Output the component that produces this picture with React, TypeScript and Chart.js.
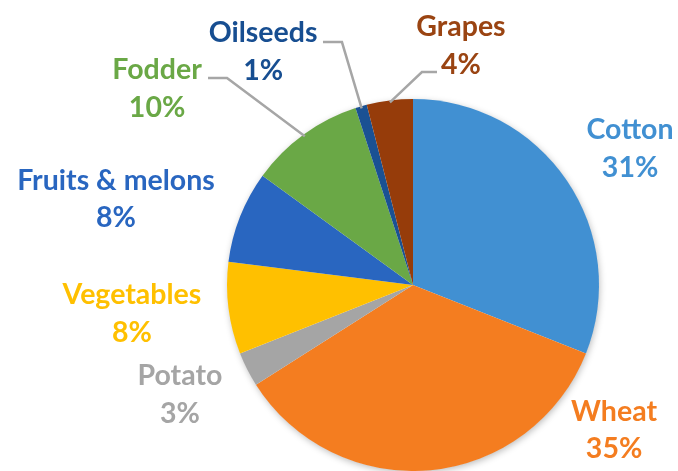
import React, { useEffect, useRef } from "react";
import { Chart, registerables } from "chart.js";

Chart.register(...registerables);

const categories = ["Cotton", "Wheat", "Potato", "Vegetables", "Fruits & melons", "Fodder", "Oilseeds", "Grapes"];
const shares = [31, 35, 3, 8, 8, 10, 1, 4];

const sliceColors = ["#4190D2", "#F47D20", "#A5A5A5", "#FFC000", "#2966C0", "#6AA846", "#1A5193", "#963C0A"];
const textColors = ["#4190D2", "#F47D20", "#A5A5A5", "#FFC000", "#2966C0", "#6AA846", "#174E91", "#9A4412"];

// label centre, relative to pie centre, in units of radius
const labelOffsets: [number, number][] = [
  [1.167, -0.731],
  [1.081, 0.78],
  [-1.253, 0.591],
  [-1.511, 0.156],
  [-1.597, -0.462],
  [-1.376, -1.054],
  [-0.806, -1.255],
  [0.258, -1.285],
];
// leader lines: [startX, startY, elbowX, elbowY] relative to centre in radius units (null = none)
const leaders: ([number, number, number, number] | null)[] = [
  null, null, null, null, null,
  [-1.102, -1.113, -1.0, -1.113],
  [-0.484, -1.306, -0.382, -1.306],
  [0.129, -1.145, 0.048, -1.145],
];

const FONT = "bold 28.5px Lato, 'Open Sans', sans-serif";
const LINE_H = 37.5;

const labelPlugin = {
  id: "pieLabels",
  beforeDatasetsDraw(chart: any) {
    const meta = chart.getDatasetMeta(0);
    const arc = meta.data[0];
    if (!arc) return;
    const { x, y, outerRadius } = arc.getProps(["x", "y", "outerRadius"], true);
    const ctx = chart.ctx;
    ctx.save();
    ctx.shadowColor = "rgba(0,0,0,0.28)";
    ctx.shadowBlur = 7;
    ctx.shadowOffsetX = 1;
    ctx.shadowOffsetY = 2;
    ctx.fillStyle = "#ffffff";
    ctx.beginPath();
    ctx.arc(x, y, outerRadius - 0.5, 0, Math.PI * 2);
    ctx.fill();
    ctx.restore();
  },
  afterDatasetsDraw(chart: any) {
    const meta = chart.getDatasetMeta(0);
    const ctx = chart.ctx;
    const first = meta.data[0];
    const { x: cx, y: cy, outerRadius: r } = first.getProps(["x", "y", "outerRadius"], true);
    ctx.save();
    meta.data.forEach((el: any, i: number) => {
      const { startAngle, endAngle } = el.getProps(["startAngle", "endAngle"], true);
      const mid = (startAngle + endAngle) / 2;
      const ld = leaders[i];
      if (ld) {
        ctx.strokeStyle = "#A6A6A6";
        ctx.lineWidth = 2.5;
        ctx.beginPath();
        ctx.moveTo(cx + ld[0] * r, cy + ld[1] * r);
        ctx.lineTo(cx + ld[2] * r, cy + ld[3] * r);
        ctx.lineTo(cx + Math.cos(mid) * (r - 2), cy + Math.sin(mid) * (r - 2));
        ctx.stroke();
      }
      const lx = cx + labelOffsets[i][0] * r;
      const ly = cy + labelOffsets[i][1] * r;
      ctx.font = FONT;
      ctx.fillStyle = textColors[i];
      ctx.textAlign = "center";
      ctx.textBaseline = "middle";
      ctx.fillText(categories[i], lx, ly - LINE_H / 2);
      ctx.fillText(shares[i] + "%", lx, ly + LINE_H / 2);
    });
    ctx.restore();
  },
};

export default function App() {
  const ref = useRef<HTMLCanvasElement | null>(null);
  useEffect(() => {
    document.body.style.margin = "0";
    const canvas = ref.current!;
    const chart = new Chart(canvas, {
      type: "pie",
      data: {
        labels: categories,
        datasets: [
          {
            data: shares,
            backgroundColor: sliceColors,
            borderWidth: 0,
          },
        ],
      },
      options: {
        animation: false,
        responsive: false,
        layout: { padding: { top: 99, bottom: 0, left: 227, right: 79 } },
        plugins: {
          legend: { display: false },
          tooltip: { enabled: false },
        },
      },
      plugins: [labelPlugin],
    });
    return () => chart.destroy();
  }, []);
  return (
    <div style={{ width: 678, height: 471, background: "#fff" }}>
      <canvas ref={ref} width={678} height={471} style={{ display: "block" }} />
    </div>
  );
}
